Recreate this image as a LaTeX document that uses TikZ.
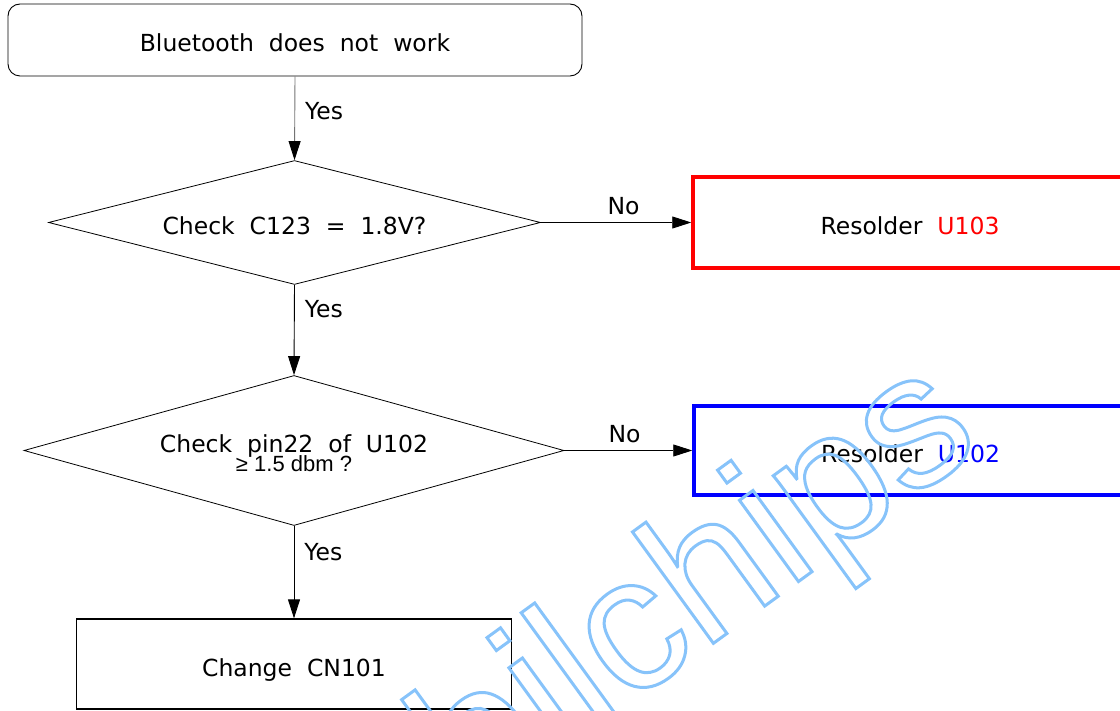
\documentclass[tikz,border=0pt]{standalone}
\usepackage{fontspec}
\setmainfont[WordSpace=2]{DejaVu Sans}
\newfontfamily\narrowfont[WordSpace=3]{Liberation Sans}
\newfontfamily\wmfont{Liberation Sans}
\usetikzlibrary{shapes.geometric,arrows.meta}
\definecolor{wmblue}{RGB}{135,195,250}
\definecolor{redbox}{RGB}{255,0,0}
\definecolor{bluebox}{RGB}{0,0,255}
\newcommand\outlinetext[1]{\special{pdf:literal direct q 1 Tr 3 w}#1\special{pdf:literal direct Q}}
\tikzset{
  every node/.style={font=\fontsize{23.5}{27}\selectfont},
  shifted/.style={text height=24pt, text depth=0pt},
  startbox/.style={draw, shifted, rounded corners=12pt, line width=0.9pt, minimum width=574pt, minimum height=72pt, inner sep=0pt},
  decision/.style={draw, diamond, line width=0.8pt, inner sep=0pt, align=center},
  redfix/.style={draw=redbox, shifted, line width=3.5pt, minimum width=434pt, minimum height=91pt, inner sep=0pt},
  bluefix/.style={draw=bluebox, shifted, line width=3.5pt, minimum width=433pt, minimum height=89pt, inner sep=0pt},
  endbox/.style={draw, shifted, line width=1.3pt, minimum width=435pt, minimum height=90pt, inner sep=0pt},
  flow/.style={draw, line width=0.9pt, -{Triangle[length=19pt,width=12pt,color=black]}},
  lbl/.style={inner sep=0pt}
}
\begin{document}
\begin{tikzpicture}[x=1pt,y=-1pt]
\useasboundingbox (0,0) rectangle (1120,711);
% nodes
\node[startbox] (start) at (295,40) {Bluetooth does not work};
\node[decision, shifted, minimum width=492pt, minimum height=124pt, aspect=3.97] (d1) at (294.5,222.5) {Check C123 = 1.8V?};
\node[redfix] (r1) at (910,222.5) {Resolder \textcolor{redbox}{U103}};
\node[decision, minimum width=540pt, minimum height=150pt, aspect=3.6] (d2) at (294,450.5) {\rule{0pt}{24pt}Check pin22 of U102\\[-8pt]{\narrowfont\fontsize{22}{24}\selectfont ≥ 1.5 dbm ?}};
\node[bluefix] (r2) at (910.5,450.5) {Resolder \textcolor{bluebox}{U102}};
\node[endbox] (end) at (294,664) {Change CN101};
% connectors
\draw[flow, draw=black!55] (start.south) -- node[lbl, right=10pt, pos=0.42] {Yes} (d1.north);
\draw[flow] (d1.east) -- node[lbl, above=7pt, pos=0.55] {No} (r1.west);
\draw[flow] (d1.south) -- node[lbl, right=10pt, pos=0.27] {Yes} (d2.north);
\draw[flow] (d2.east) -- node[lbl, above=7pt, pos=0.47] {No} (r2.west);
\draw[flow] (d2.south) -- node[lbl, right=10pt, pos=0.28] {Yes} (end.north);
% watermark (on top, outlined)
\begin{scope}
\clip (0,0) rectangle (1120,711);
\node[anchor=base east, rotate=36, inner sep=0pt, text=wmblue, font=\wmfont\fontsize{190}{190}\selectfont]
  (wm) at (985,446) {\outlinetext{Mobilchips}};
\end{scope}
\end{tikzpicture}
\end{document}
